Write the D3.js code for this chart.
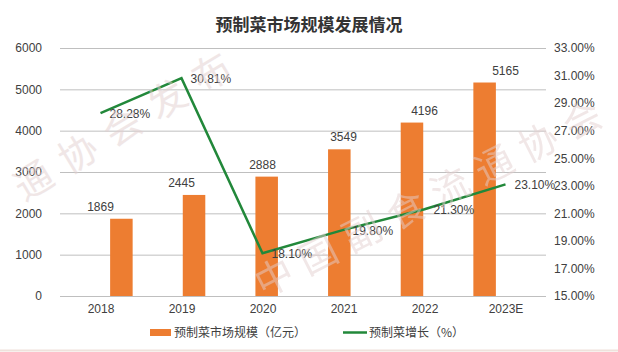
<!DOCTYPE html>
<html><head><meta charset="utf-8">
<script src="https://cdn.jsdelivr.net/npm/d3@7/dist/d3.min.js"></script>
<style>body{margin:0;background:#fff;}svg{display:block;font-family:"Noto Sans CJK SC","Noto Sans",sans-serif;}</style>
</head><body><svg id="c" width="618" height="352"></svg>
<script>
const categories = ["2018","2019","2020","2021","2022","2023E"];
const marketSize = [1869,2445,2888,3549,4196,5165];
const growth = [28.28,30.81,18.10,19.80,21.30,23.10];
const leftTicks = [0,1000,2000,3000,4000,5000,6000];
const rightTicks = [15,17,19,21,23,25,27,29,31,33];
const title = "预制菜市场规模发展情况";
const legendLabels = ["预制菜市场规模（亿元）","预制菜增长（%）"];
const watermarkTop = "通协会发布";
const watermarkBottom = "中国副食流通协会";

const svg = d3.select("#c");
const m = {l:60, r:546, t:48, b:296};
const x = d3.scaleBand().domain(categories).range([m.l, m.r]).padding(0.69);
const xc = d3.scalePoint().domain(categories).range([m.l, m.r]).padding(0.5);
const yL = d3.scaleLinear().domain([0,6000]).range([m.b, m.t]);
const yR = d3.scaleLinear().domain([15,33]).range([m.b, m.t]);
const orange = "#ED7D31", green = "#22883A", txt = "#404040";

// title
svg.append("text").attr("x",309).attr("y",31).attr("text-anchor","middle")
  .attr("font-size",17).attr("font-weight","bold").attr("fill","#333").text(title);

// gridlines
svg.append("g").selectAll("line").data(leftTicks).join("line")
  .attr("x1",m.l).attr("x2",m.r).attr("y1",d=>yL(d)+0.5).attr("y2",d=>yL(d)+0.5)
  .attr("stroke","#bfbfbf").attr("stroke-width",1);

// left axis
const axL = svg.append("g").attr("transform",`translate(${m.l-10},0)`)
  .call(d3.axisLeft(yL).tickValues(leftTicks).tickSize(0).tickPadding(8).tickFormat(d3.format("d")));
axL.select(".domain").remove();
axL.selectAll("text").attr("font-size",12).attr("fill",txt).attr("font-family","Liberation Sans, sans-serif");

// right axis
const axR = svg.append("g").attr("transform",`translate(${m.r},0)`)
  .call(d3.axisRight(yR).tickValues(rightTicks).tickSize(0).tickPadding(8).tickFormat(d=>d.toFixed(2)+"%"));
axR.select(".domain").remove();
axR.selectAll("text").attr("font-size",12).attr("fill",txt).attr("font-family","Liberation Sans, sans-serif");

// x axis
const axX = svg.append("g").attr("transform",`translate(0,${m.b+2})`)
  .call(d3.axisBottom(xc).tickSize(0).tickPadding(6));
axX.select(".domain").remove();
axX.selectAll("text").attr("font-size",12).attr("fill",txt).attr("font-family","Liberation Sans, sans-serif");

// bars
svg.append("g").selectAll("rect").data(marketSize).join("rect")
  .attr("x",(d,i)=>x(categories[i])).attr("width",x.bandwidth())
  .attr("y",d=>yL(d)).attr("height",d=>yL(0)-yL(d)).attr("fill",orange);
svg.append("g").selectAll("text").data(marketSize).join("text")
  .attr("x",(d,i)=>xc(categories[i])).attr("y",d=>yL(d)-8).attr("text-anchor","middle")
  .attr("font-size",12).attr("fill",txt).attr("font-family","Liberation Sans, sans-serif").text(d=>d);

// line
const line = d3.line().x((d,i)=>xc(categories[i])).y(d=>yR(d));
svg.append("path").datum(growth).attr("d",line).attr("fill","none")
  .attr("stroke",green).attr("stroke-width",2.5).attr("stroke-linejoin","miter");
svg.append("g").selectAll("text").data(growth).join("text")
  .attr("x",(d,i)=>xc(categories[i])+9).attr("y",(d,i)=>yR(d)+5)
  .attr("font-size",12).attr("fill",txt).attr("font-family","Liberation Sans, sans-serif")
  .text(d=>d.toFixed(2)+"%");

// legend
const lg = svg.append("g").attr("font-size",12).attr("fill",txt);
lg.append("rect").attr("x",150).attr("y",329).attr("width",21).attr("height",7).attr("fill",orange);
lg.append("text").attr("x",174).attr("y",337).text(legendLabels[0]);
lg.append("line").attr("x1",343).attr("x2",367).attr("y1",332.5).attr("y2",332.5).attr("stroke",green).attr("stroke-width",2.5);
lg.append("text").attr("x",369).attr("y",337).text(legendLabels[1]);

// watermark overlay (characters placed individually along a slanted path)
function drawWatermark(str, x0, y0, dx, dy, angle){
  svg.append("g").attr("fill","#e2cfcf").attr("opacity",0.5).attr("font-size",38)
    .selectAll("text").data(Array.from(str)).join("text")
    .attr("text-anchor","middle").attr("dominant-baseline","central")
    .attr("transform",(d,i)=>`translate(${x0+dx*i},${y0+dy*i}) rotate(${angle})`)
    .text(d=>d);
}
drawWatermark(watermarkTop, 32, 178, 44.5, -27, -31);
drawWatermark(watermarkBottom, 273, 275, 44, -22.5, -27);

// faint bottom border
svg.append("line").attr("x1",0).attr("x2",618).attr("y1",350.5).attr("y2",350.5).attr("stroke","#efe2dc").attr("stroke-width",2);
</script></body></html>
